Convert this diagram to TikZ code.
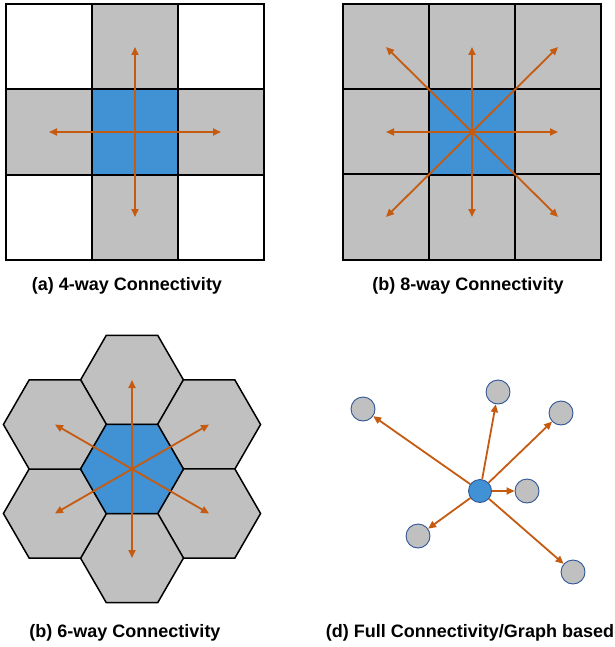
\documentclass[tikz,border=0pt]{standalone}
\usepackage{fontspec}
\setmainfont{Liberation Sans}
\usetikzlibrary{shapes.geometric,arrows.meta,positioning}
\definecolor{cellgray}{RGB}{192,192,192}
\definecolor{midblue}{RGB}{64,146,212}
\definecolor{arrowor}{RGB}{197,90,17}
\definecolor{rimblue}{RGB}{47,85,151}
\tikzstyle{cell} = [draw=black, line width=1.8pt, minimum size=86pt, inner sep=0pt, fill=cellgray]
\tikzstyle{hexcell} = [regular polygon, regular polygon sides=6, draw=black, line width=1.5pt, minimum size=103pt, inner sep=0pt, fill=cellgray]
\tikzstyle{vertex} = [circle, draw=rimblue, line width=0.9pt, minimum size=24pt, inner sep=0pt, fill=cellgray]
\tikzstyle{link} = [draw=arrowor, line width=1.8pt, -{Triangle[length=8pt,width=7pt]}]
\tikzstyle{caption} = [font=\bfseries\fontsize{18}{20}\selectfont]

\begin{document}
\begin{tikzpicture}[x=1pt, y=-1pt]
  \useasboundingbox (0,0) rectangle (614,647);
  % (a) 4-way grid
  \foreach \i in {0,1,2}
    \foreach \j in {0,1,2}
      \node[cell, fill=white] (a\i\j) at ({49+86*\i},{47+85*\j}) {};
  \foreach \k in {10,01,21,12}
    \node[cell] (a\k) at (a\k) {};
  \node[cell, fill=midblue] (a11) at (a11) {};
  \foreach \k in {10,01,21,12}
    \draw[link] (a11.center) -- (a\k.center);
  \node[caption] (capa) at (127,286) {(a) 4-way Connectivity};

  % (b) 8-way grid
  \foreach \i in {0,1,2}
    \foreach \j in {0,1,2}
      \node[cell] (b\i\j) at ({386+86*\i},{47+85*\j}) {};
  \node[cell, fill=midblue] (b11) at (b11) {};
  \foreach \k in {00,10,20,01,21,02,12,22}
    \draw[link] (b11.center) -- (b\k.center);
  \node[caption] (capb) at (468,286) {(b) 8-way Connectivity};

  % (c) 6-way hexagons
  \foreach \a in {90,30,-30,-90,-150,150}
    \node[hexcell] (h\a) at ({132+89*cos(\a)},{469-89*sin(\a)}) {};
  \node[hexcell, fill=midblue] (h0) at (132,469) {};
  \foreach \a in {90,30,-30,-90,-150,150}
    \draw[link] (h0.center) -- (h\a.center);
  \node[caption] (capc) at (125,633) {(b) 6-way Connectivity};

  % (d) graph
  \node[vertex, fill=midblue, minimum size=23pt] (g0) at (480,491) {};
  \node[vertex] (g1) at (363,409) {};
  \node[vertex] (g2) at (498,392) {};
  \node[vertex] (g3) at (561,413) {};
  \node[vertex] (g4) at (527,491) {};
  \node[vertex] (g5) at (418,536) {};
  \node[vertex] (g6) at (573,572) {};
  \foreach \k in {1,...,6}
    \draw[link] (g0) -- (g\k);
  \node[caption] (capd) at (470,633) {(d) Full Connectivity/Graph based};
\end{tikzpicture}
\end{document}
